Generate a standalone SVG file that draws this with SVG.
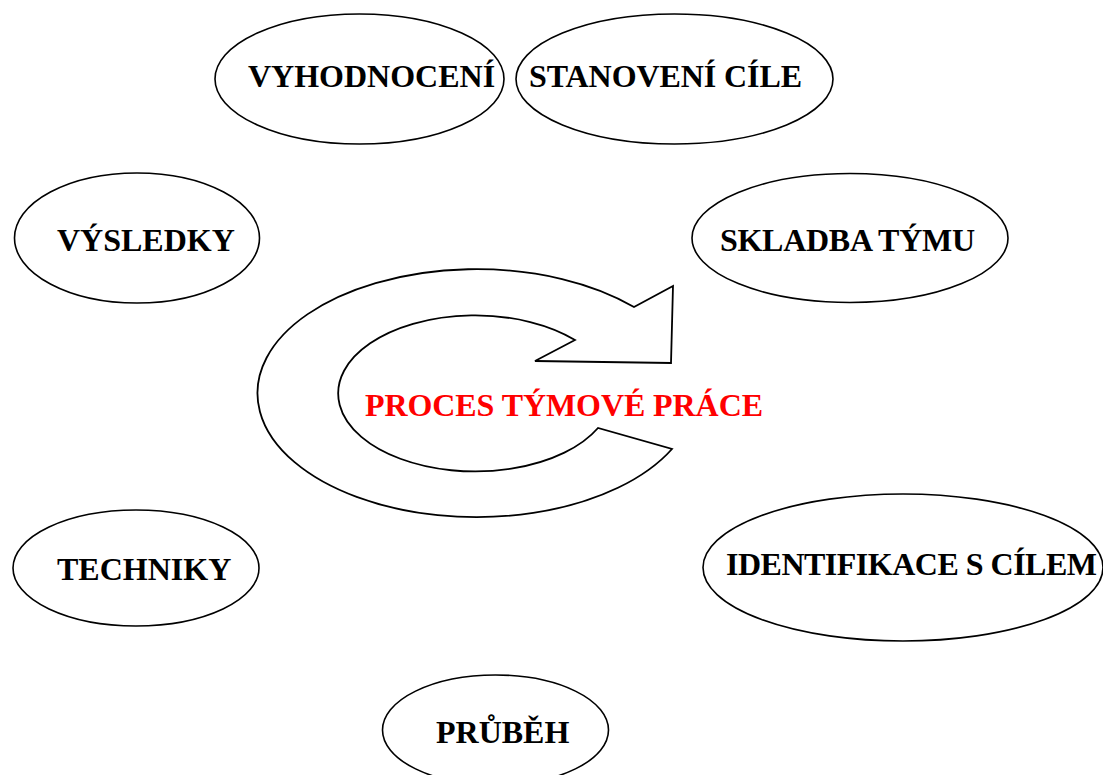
<svg xmlns="http://www.w3.org/2000/svg" width="1103" height="775" viewBox="0 0 1103 775">
<style>
.n ellipse{fill:#fff;stroke:#000;stroke-width:1.6}
.t{font-family:"Liberation Serif","Times New Roman",serif;font-weight:bold;font-size:32px;fill:#000}
.r{fill:#ff0000}
.arrow{fill:#fff;stroke:#000;stroke-width:1.8;stroke-linejoin:miter}
</style>
<rect width="1103" height="775" fill="#fff"/>
<g id="cycle">
<path class="arrow" d="M 672,449 A 219 124 0 1 1 634,307 L 673,286 L 671,363 L 535,361 L 575,340 A 137 78 0 1 0 598,428 Z"/>
<text class="t r" x="365" y="416" textLength="398">PROCES TÝMOVÉ PRÁCE</text>
</g>
<g id="vyhodnoceni" class="n">
<ellipse cx="359.5" cy="79" rx="144.5" ry="65"/>
<text class="t" x="248" y="87">VYHODNOCENÍ</text>
</g>
<g id="stanoveni" class="n">
<ellipse cx="674.5" cy="79" rx="158.5" ry="65"/>
<text class="t" x="529" y="87" textLength="273">STANOVENÍ CÍLE</text>
</g>
<g id="vysledky" class="n">
<ellipse cx="137" cy="238" rx="122.5" ry="65"/>
<text class="t" x="57" y="251">VÝSLEDKY</text>
</g>
<g id="skladba" class="n">
<ellipse cx="850" cy="238" rx="158" ry="64.5"/>
<text class="t" x="720" y="251" textLength="255">SKLADBA TÝMU</text>
</g>
<g id="techniky" class="n">
<ellipse cx="136" cy="568" rx="123" ry="58"/>
<text class="t" x="57" y="580">TECHNIKY</text>
</g>
<g id="identifikace" class="n">
<ellipse cx="903" cy="567.5" rx="200" ry="73.5"/>
<text class="t" x="726" y="575" textLength="371">IDENTIFIKACE S CÍLEM</text>
</g>
<g id="prubeh" class="n">
<ellipse cx="495.5" cy="730" rx="113" ry="55"/>
<text class="t" x="436" y="743">PRŮBĚH</text>
</g>
<g id="connectors"></g>
</svg>
